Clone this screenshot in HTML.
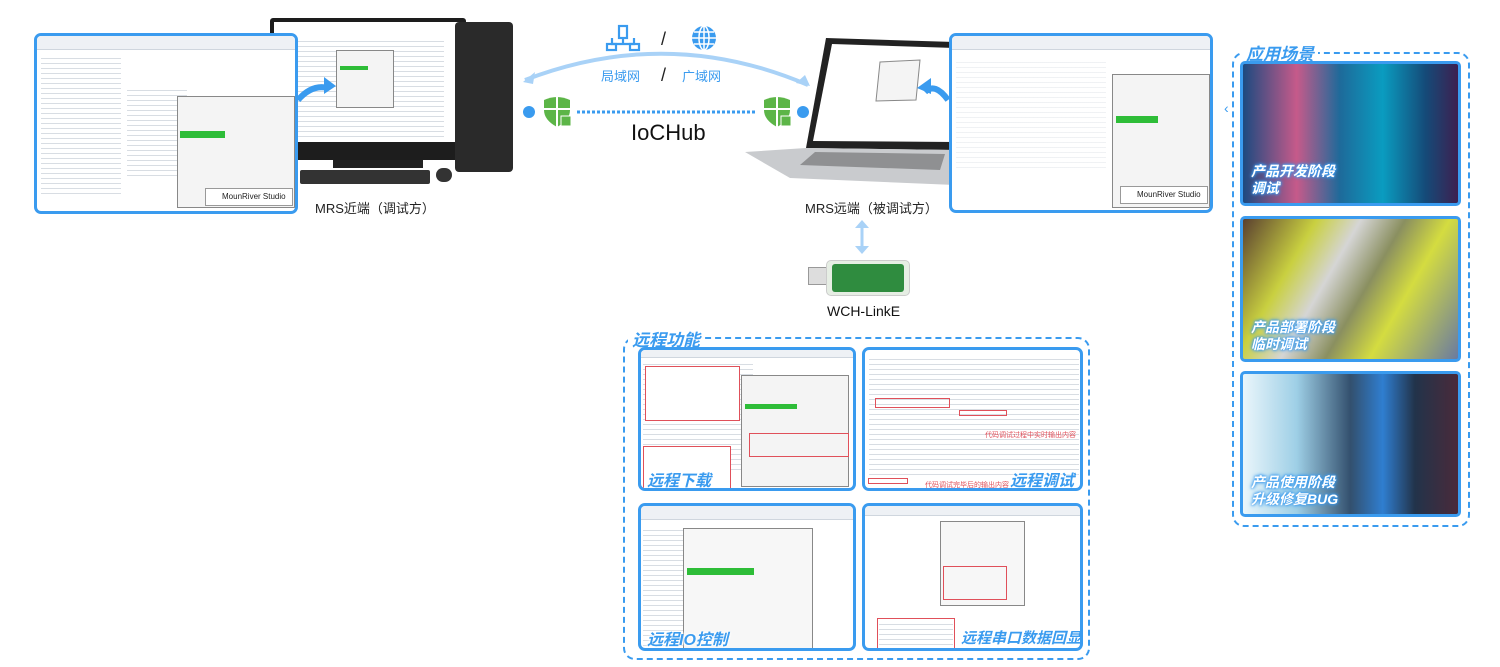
<!DOCTYPE html>
<html><head><meta charset="utf-8"><style>
*{margin:0;padding:0;box-sizing:border-box}
body{width:1500px;height:667px;background:#fff;position:relative;overflow:hidden;font-family:"Liberation Sans","Noto Sans CJK SC",sans-serif}
.a{position:absolute}
.shot{position:absolute;border:3px solid #3a9bef;border-radius:7px;background:#fff;overflow:hidden}
.lines{position:absolute;background:repeating-linear-gradient(#fff 0 4px,#d8dde3 4px 5px)}
.tb{position:absolute;left:0;right:0;top:0;height:14px;background:#eef1f5;border-bottom:1px solid #cfd6de}
.dlg{position:absolute;background:#f4f4f4;border:1px solid #888}
.green{position:absolute;background:#2ebd38}
.red{position:absolute;border:1px solid #e0505a}
.lab{position:absolute;white-space:nowrap;font-style:italic;font-weight:bold;color:#3a9bef;text-shadow:0 0 3px #fff,0 0 3px #fff,0 0 2px #fff}
.dash{position:absolute;border:2.5px dashed #3a9bef;border-radius:12px}
.title{position:absolute;font-style:italic;font-weight:bold;color:#3a9bef;font-size:17px;background:#fff;padding:0 4px}
.scene{position:absolute;border:3px solid #3a9bef;border-radius:5px;overflow:hidden}
.scene span{position:absolute;left:8px;bottom:6px;color:#fff;font-style:italic;font-weight:bold;font-size:14px;line-height:17px;text-shadow:0 0 2px #3a9bef,0 0 3px #3a9bef,0 0 4px #3a9bef}
.mrs{position:absolute;white-space:nowrap;background:#fff;border:1px solid #999;font-size:8px;line-height:16px;padding-left:16px;color:#222}
</style></head><body>

<!-- monitor -->
<div class="a" style="left:270px;top:18px;width:196px;height:142px;background:#1d1d1d;border-radius:3px"></div>
<div class="a" style="left:274px;top:22px;width:188px;height:120px;background:#fff"><div class="lines" style="left:10px;top:15px;width:160px;height:100px"></div><div class="dlg" style="left:62px;top:28px;width:58px;height:58px"></div><div class="green" style="left:66px;top:44px;width:28px;height:4px"></div></div>
<div class="a" style="left:333px;top:160px;width:90px;height:8px;background:#222"></div>
<div class="a" style="left:300px;top:170px;width:130px;height:14px;background:#333;border-radius:2px"></div>
<div class="a" style="left:436px;top:168px;width:16px;height:14px;background:#333;border-radius:7px"></div>
<div class="a" style="left:455px;top:22px;width:58px;height:150px;background:#2a2a2a;border-radius:4px"></div>

<!-- Left screenshot -->
<div class="shot" style="left:34px;top:33px;width:264px;height:181px">
 <div class="tb"></div>
 <div class="lines" style="left:4px;top:18px;width:80px;height:140px"></div>
 <div class="lines" style="left:90px;top:50px;width:60px;height:90px"></div>
 <div class="dlg" style="left:140px;top:60px;width:118px;height:112px"></div>
 <div class="green" style="left:143px;top:95px;width:45px;height:7px"></div>
 <div class="mrs" style="left:168px;top:152px;width:88px;height:18px">MounRiver Studio</div>
</div>
<div class="a" style="left:315px;top:198px;font-size:13px;color:#222;white-space:nowrap">MRS近端（调试方）</div>

<!-- laptop -->
<svg class="a" style="left:0;top:0" width="1500" height="300">
 <polygon points="826,38 955,42 955,150 806,148" fill="#222"/>
 <polygon points="832,44 955,48 955,142 813,141" fill="#fff"/>
 <polygon points="880,62 920,60 916,100 876,101" fill="#f4f4f4" stroke="#888"/>
 <polygon points="806,148 955,150 955,185 790,178 745,152" fill="#c9cbce"/>
 <polygon points="815,152 945,154 940,170 800,165" fill="#555" opacity=".5"/>
</svg>

<!-- arc and network -->
<svg class="a" style="left:0;top:0" width="1500" height="300">
 <path d="M525 80 Q668 25 808 85" fill="none" stroke="#a9d2f7" stroke-width="4"/>
 <path d="M523 82 l12 -10 l-2 12 z" fill="#a9d2f7"/>
 <path d="M810 86 l-14 -3 l9 -8 z" fill="#a9d2f7"/>
 <g stroke="#3a9bef" stroke-width="2.2" fill="none">
  <rect x="619" y="26" width="8" height="12"/><path d="M612 38 v6 h22 v-6 M623 38 v6"/><rect x="607" y="44" width="9" height="6"/><rect x="630" y="44" width="9" height="6"/>
 </g>
 <circle cx="704" cy="38" r="12" fill="#3a9bef"/>
 <g stroke="#fff" stroke-width="1.5" fill="none"><ellipse cx="704" cy="38" rx="5" ry="12"/><path d="M692 38 h24 M694 32 h20 M694 44 h20 M704 26 v24"/></g>
 <text x="661" y="45" font-size="18" fill="#222" font-family="Liberation Sans">/</text>
 <text x="661" y="81" font-size="18" fill="#222" font-family="Liberation Sans">/</text>
 <circle cx="529" cy="112" r="6" fill="#3a9bef"/><circle cx="803" cy="112" r="6" fill="#3a9bef"/>
 <line x1="577" y1="112" x2="757" y2="112" stroke="#3a9bef" stroke-width="3" stroke-dasharray="3 2"/>
 <g fill="#5cb547">
  <path d="M544 100 q13 -6 26 0 v10 q0 10 -13 17 q-13 -7 -13 -17z"/>
  <path d="M764 100 q13 -6 26 0 v10 q0 10 -13 17 q-13 -7 -13 -17z"/>
 </g>
 <g stroke="#fff" stroke-width="2"><path d="M557 96 v32 M544 109 h26 M777 96 v32 M764 109 h26"/></g>
 <rect x="561" y="116" width="10" height="10" fill="#5cb547" stroke="#fff"/><rect x="781" y="116" width="10" height="10" fill="#5cb547" stroke="#fff"/>
 <line x1="862" y1="222" x2="862" y2="252" stroke="#a9d2f7" stroke-width="3"/>
 <path d="M855 228 l7 -8 l7 8z M855 246 l7 8 l7 -8z" fill="#a9d2f7"/>
 <path d="M948 100 Q935 82 925 92" fill="none" stroke="#3a9bef" stroke-width="6"/>
 <path d="M917 88 l14 -10 l0 16z" fill="#3a9bef"/>
 <path d="M298 100 Q312 84 328 88" fill="none" stroke="#3a9bef" stroke-width="6"/>
 <path d="M336 86 l-12 -9 l0 17z" fill="#3a9bef"/>
</svg>
<div class="a" style="left:601px;top:66px;font-size:13px;color:#3a9bef">局域网</div>
<div class="a" style="left:682px;top:66px;font-size:13px;color:#3a9bef">广域网</div>
<div class="a" style="left:631px;top:120px;font-size:22px;color:#111">IoCHub</div>
<div class="a" style="left:805px;top:198px;font-size:13px;color:#222;white-space:nowrap">MRS远端（被调试方）</div>

<!-- right screenshot -->
<div class="shot" style="left:949px;top:33px;width:264px;height:180px">
 <div class="tb"></div>
 <div class="lines" style="left:4px;top:22px;width:150px;height:110px;opacity:.4"></div>
 <div class="dlg" style="left:160px;top:38px;width:98px;height:134px"></div>
 <div class="green" style="left:164px;top:80px;width:42px;height:7px"></div>
 <div class="mrs" style="left:168px;top:150px;width:88px;height:18px">MounRiver Studio</div>
</div>

<!-- USB -->
<div class="a" style="left:808px;top:267px;width:20px;height:18px;background:#ddd;border:1px solid #999"></div>
<div class="a" style="left:826px;top:260px;width:84px;height:36px;background:#e6eee4;border-radius:5px;border:1px solid #ccc"></div>
<div class="a" style="left:832px;top:264px;width:72px;height:28px;background:#2f8c3f;border-radius:3px"></div>
<div class="a" style="left:827px;top:303px;font-size:14px;color:#111">WCH-LinkE</div>

<!-- remote functions -->
<div class="dash" style="left:623px;top:337px;width:467px;height:323px"></div>
<div class="title" style="left:628px;top:326px">远程功能</div>
<div class="shot" style="left:638px;top:347px;width:218px;height:144px"><div class="tb" style="height:8px"></div><div class="lines" style="left:2px;top:10px;width:110px;height:110px"></div><div class="red" style="left:4px;top:16px;width:95px;height:55px;background:#fff"></div><div class="dlg" style="left:100px;top:25px;width:108px;height:112px"></div><div class="green" style="left:104px;top:54px;width:52px;height:5px"></div><div class="red" style="left:108px;top:83px;width:100px;height:24px"></div><div class="red" style="left:2px;top:96px;width:88px;height:44px;background:#fff"></div><div class="lab" style="left:6px;top:117px;font-size:16px">远程下载</div></div>
<div class="shot" style="left:862px;top:347px;width:221px;height:144px"><div class="lines" style="left:4px;top:5px;width:210px;height:120px"></div><div class="red" style="left:10px;top:48px;width:75px;height:10px"></div><div class="red" style="left:94px;top:60px;width:48px;height:6px"></div><div class="red" style="left:3px;top:128px;width:40px;height:6px"></div><div class="a" style="left:120px;top:80px;font-size:7px;color:#e0505a;white-space:nowrap">代码调试过程中实时输出内容</div><div class="a" style="left:60px;top:130px;font-size:7px;color:#e0505a;white-space:nowrap">代码调试完毕后的输出内容</div><div class="lab" style="left:145px;top:117px;font-size:16px">远程调试</div></div>
<div class="shot" style="left:638px;top:503px;width:218px;height:148px"><div class="tb"></div><div class="lines" style="left:2px;top:20px;width:40px;height:120px"></div><div class="dlg" style="left:42px;top:22px;width:130px;height:124px;background:#f7f7f7"></div><div class="green" style="left:46px;top:62px;width:67px;height:7px"></div><div class="lab" style="left:6px;top:120px;font-size:16px">远程IO控制</div></div>
<div class="shot" style="left:862px;top:503px;width:221px;height:148px"><div class="tb" style="height:10px"></div><div class="dlg" style="left:75px;top:15px;width:85px;height:85px;background:#f7f7f7"></div><div class="red" style="left:78px;top:60px;width:64px;height:34px"></div><div class="red" style="left:12px;top:112px;width:78px;height:34px"></div><div class="lines" style="left:14px;top:114px;width:74px;height:30px"></div><div class="lab" style="left:96px;top:121px;font-size:15px">远程串口数据回显</div></div>

<!-- scenes -->
<div class="dash" style="left:1232px;top:52px;width:238px;height:475px"></div>
<div class="title" style="left:1242px;top:40px">应用场景</div>
<div class="a" style="left:1224px;top:100px;color:#3a9bef;font-size:14px;background:#fff">‹</div>
<div class="scene" style="left:1240px;top:61px;width:221px;height:145px;background:linear-gradient(90deg,#1c4a80 0%,#c65a8a 25%,#1e6a9a 45%,#0a9cc0 65%,#154a78 85%,#3d2050 100%)"><span>产品开发阶段<br>调试</span></div>
<div class="scene" style="left:1240px;top:216px;width:221px;height:146px;background:linear-gradient(120deg,#5a4030 0%,#c9d040 25%,#d5d5d5 40%,#8a8f60 55%,#d4dc40 70%,#6a7aa0 100%)"><span>产品部署阶段<br>临时调试</span></div>
<div class="scene" style="left:1240px;top:371px;width:221px;height:146px;background:linear-gradient(90deg,#eaf6fb 0%,#9ecfe6 25%,#33506e 50%,#2f7ed0 65%,#22334a 80%,#4a2a3a 100%)"><span>产品使用阶段<br>升级修复BUG</span></div>

</body></html>
